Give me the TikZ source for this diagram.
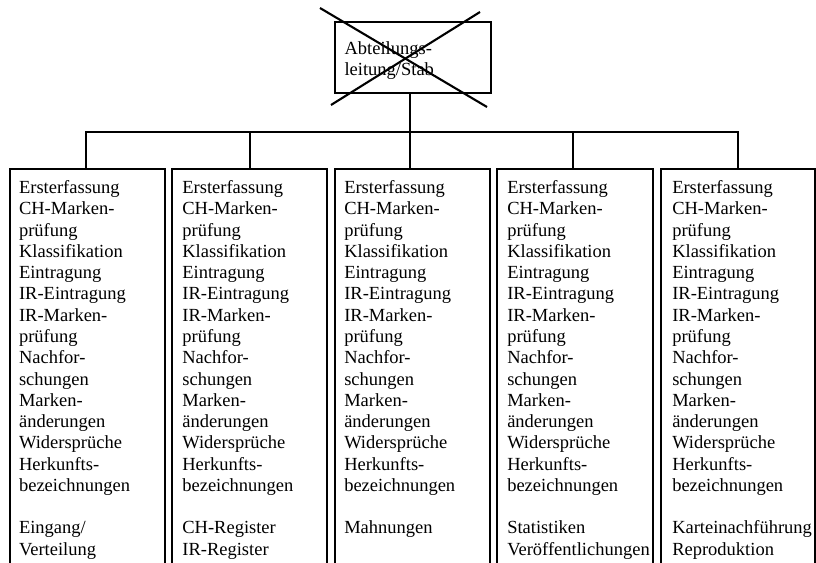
\documentclass[tikz,border=0pt]{standalone}
\usepackage{fontspec}
\setmainfont{Liberation Serif}
\newcommand{\tasklist}{Ersterfassung\\CH-Marken-\\prüfung\\Klassifikation\\Eintragung\\IR-Eintragung\\IR-Marken-\\prüfung\\Nachfor-\\schungen\\Marken-\\änderungen\\Widersprüche\\Herkunfts-\\bezeichnungen\\[21.27pt]}
\begin{document}
\begin{tikzpicture}[x=1pt,y=-1pt,line width=2.1pt,
  unitbox/.style={draw,rectangle,minimum height=430pt,anchor=north west,inner sep=0pt,outer sep=0pt},
  unittext/.style={anchor=north west,align=left,inner sep=0pt,font=\fontsize{18.5}{21.27}\selectfont},
  bar/.style={line width=2.1pt}]
\useasboundingbox (0,0) rectangle (816,562);
\clip (0,0) rectangle (816,562);
\fill[white] (0,0) rectangle (816,562);
% head box
\node[draw,rectangle,minimum width=156pt,minimum height=71pt,anchor=north west,inner sep=0pt,outer sep=0pt] (head) at (335,22) {};
\node[unittext] (headtext) at (343.5,40.5) {Abteilungs-\\leitung/Stab};
\coordinate (x1a) at (320,8);
\coordinate (x1b) at (487,107);
\coordinate (x2a) at (480,12);
\coordinate (x2b) at (331,105);
\draw[bar] (x1a) -- (x1b);
\draw[bar] (x2a) -- (x2b);
% unit boxes
\node[unitbox,minimum width=155pt] (b1) at (10,169) {};
\node[unitbox,minimum width=155pt] (b2) at (172,169) {};
\node[unitbox,minimum width=155pt] (b3) at (335,169) {};
\node[unitbox,minimum width=156pt] (b4) at (497,169) {};
\node[unitbox,minimum width=154pt] (b5) at (661,169) {};
\node[unittext] (t1) at (18,179.5) {\tasklist Eingang/\\Verteilung};
\node[unittext] (t2) at (181.3,179.5) {\tasklist CH-Register\\IR-Register};
\node[unittext] (t3) at (343.2,179.5) {\tasklist Mahnungen};
\node[unittext] (t4) at (506.2,179.5) {\tasklist Statistiken\\Veröffentlichungen};
\node[unittext] (t5) at (671.2,179.5) {\tasklist Karteinachführung\\Reproduktion};
% connectors
\coordinate (d1) at (86,132);
\coordinate (d2) at (250,132);
\coordinate (d3) at (410,132);
\coordinate (d4) at (573,132);
\coordinate (d5) at (738,132);
\draw[bar] (d3 |- head.south) -- (d3 |- b3.north);
\draw[bar] (d1 |- b1.north) -- (d1) -- (d5) -- (d5 |- b5.north);
\draw[bar] (d2) -- (d2 |- b2.north);
\draw[bar] (d4) -- (d4 |- b4.north);
\end{tikzpicture}
\end{document}
